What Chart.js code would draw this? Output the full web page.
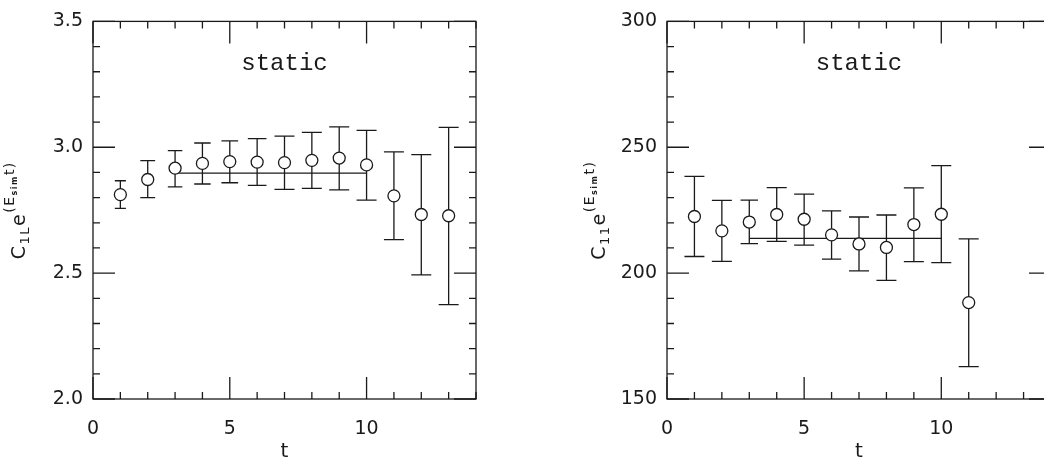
<!DOCTYPE html>
<html>
<head>
<meta charset="utf-8">
<script src="https://cdn.jsdelivr.net/npm/chart.js@4.4.1/dist/chart.umd.min.js"></script>
<style>
  html, body { margin: 0; padding: 0; background: #fff; overflow: hidden; width: 1044px; height: 461px; }
  #painel-esq { position: absolute; left: 0; top: 0; width: 522px; height: 461px; }
  #painel-dir { position: absolute; left: 522px; top: 0; width: 560px; height: 461px; }
</style>
</head>
<body>
<div id="painel-esq"><canvas id="chart-left" width="522" height="461"></canvas></div>
<div id="painel-dir"><canvas id="chart-right" width="560" height="461"></canvas></div>
<script>
// --- Data: left panel (C_1L) ---
const tLeft = [1, 2, 3, 4, 5, 6, 7, 8, 9, 10, 11, 12, 13];
const valLeft = [2.812, 2.872, 2.917, 2.936, 2.943, 2.941, 2.939, 2.948, 2.957, 2.930, 2.807, 2.733, 2.728];
const hiLeft = [2.867, 2.947, 2.987, 3.017, 3.025, 3.034, 3.044, 3.059, 3.081, 3.067, 2.982, 2.971, 3.079];
const loLeft = [2.757, 2.800, 2.843, 2.854, 2.859, 2.849, 2.833, 2.837, 2.831, 2.790, 2.633, 2.493, 2.375];
const fitLeft = 2.897;
const fitRangeLeft = [3, 10];
const yTicksLeft = [2.0, 2.5, 3.0, 3.5];
const yLabelsLeft = ['2.0', '2.5', '3.0', '3.5'];

// --- Data: right panel (C_11) ---
const tRight = [1, 2, 3, 4, 5, 6, 7, 8, 9, 10, 11];
const valRight = [222.5, 216.8, 220.3, 223.3, 221.4, 215.2, 211.6, 210.2, 219.3, 223.4, 188.3];
const hiRight = [238.4, 228.9, 229.0, 234.0, 231.4, 224.7, 222.3, 223.1, 233.9, 242.7, 213.6];
const loRight = [206.6, 204.7, 211.7, 212.6, 211.1, 205.6, 200.9, 197.1, 204.6, 204.2, 162.9];
const fitRight = 213.8;
const fitRangeRight = [3, 10];
const yTicksRight = [150, 200, 250, 300];
const yLabelsRight = ['150', '200', '250', '300'];

// shared x axis
const xTicks = [0, 5, 10];
const xLabels = ['0', '5', '10'];
const panelText = 'static';

const INK = '#1a1a1a';
const FONT = 'DejaVu Sans';

// --- Plugins ---
// error bars with caps, drawn under the circles
const errorBars = {
    id: 'errorBars',
    beforeDatasetsDraw(chart) {
        const { ctx, scales: { x, y } } = chart;
        chart.data.datasets.forEach(ds => {
            if (!ds.yMin) return;
            ctx.save();
            ctx.strokeStyle = INK;
            ctx.lineWidth = 1.3;
            ds.data.forEach((p, i) => {
                const px = x.getPixelForValue(p.x);
                const top = y.getPixelForValue(ds.yMax[i]);
                const bot = y.getPixelForValue(ds.yMin[i]);
                const half = Math.min(10, 0.2 * (bot - top));
                ctx.beginPath();
                ctx.moveTo(px, top); ctx.lineTo(px, bot);
                ctx.moveTo(px - half, top); ctx.lineTo(px + half, top);
                ctx.moveTo(px - half, bot); ctx.lineTo(px + half, bot);
                ctx.stroke();
            });
            ctx.restore();
        });
    }
};

// box around the plot with inward ticks on all four sides
const frame = {
    id: 'frame',
    afterDraw(chart, args, opts) {
        const { ctx, chartArea: a, scales: { x, y } } = chart;
        ctx.save();
        ctx.strokeStyle = INK;
        ctx.lineWidth = 1.3;
        ctx.strokeRect(a.left, a.top, a.right - a.left, a.bottom - a.top);
        ctx.beginPath();
        const isMajor = (v, step) => Math.abs(v / step - Math.round(v / step)) < 1e-6;
        const nx = Math.round((x.max - x.min) / opts.xMinor);
        for (let i = 0; i <= nx; i++) {
            const v = x.min + i * opts.xMinor;
            const px = x.getPixelForValue(v);
            const len = isMajor(v, opts.xMajor) ? 22 : 7;
            ctx.moveTo(px, a.bottom); ctx.lineTo(px, a.bottom - len);
            ctx.moveTo(px, a.top); ctx.lineTo(px, a.top + len);
        }
        const ny = Math.round((y.max - y.min) / opts.yMinor);
        for (let i = 0; i <= ny; i++) {
            const v = y.min + i * opts.yMinor;
            const py = y.getPixelForValue(v);
            const len = isMajor(v - y.min, opts.yMajor) ? 22 : 7;
            ctx.moveTo(a.left, py); ctx.lineTo(a.left + len, py);
            ctx.moveTo(a.right, py); ctx.lineTo(a.right - len, py);
        }
        ctx.stroke();

        // panel label
        ctx.fillStyle = INK;
        ctx.font = '24px "Liberation Mono"';
        ctx.textAlign = 'center';
        ctx.textBaseline = 'alphabetic';
        ctx.fillText(opts.label, (a.left + a.right) / 2, a.top + 49);
        ctx.restore();
    }
};

// rotated y title with sub/superscripts: C_sub e^(E_sim t)
const yTitle = {
    id: 'yTitle',
    afterDraw(chart, args, opts) {
        const { ctx, chartArea: a } = chart;
        const pieces = [
            { t: 'C', size: 19, dy: 0 },
            { t: opts.sub, size: 13, dy: 4 },
            { t: 'e', size: 19, dy: 0 },
            { t: '(E', size: 14, dy: -11 },
            { t: 'sim', size: 8, dy: -8, bold: true },
            { t: 't)', size: 14, dy: -11 }
        ];
        ctx.save();
        ctx.fillStyle = INK;
        ctx.textBaseline = 'alphabetic';
        ctx.textAlign = 'left';
        ctx.letterSpacing = '1.5px';
        let total = 0;
        pieces.forEach(p => {
            ctx.font = (p.bold ? 'bold ' : '') + p.size + 'px "' + FONT + '"';
            p.w = ctx.measureText(p.t).width;
            total += p.w;
        });
        ctx.translate(a.left - opts.offset, (a.top + a.bottom) / 2);
        ctx.rotate(-Math.PI / 2);
        let cx = -total / 2;
        pieces.forEach(p => {
            ctx.font = (p.bold ? 'bold ' : '') + p.size + 'px "' + FONT + '"';
            ctx.fillText(p.t, cx, p.dy);
            cx += p.w;
        });
        ctx.restore();
    }
};

// --- Chart builder ---
function makePanel(canvasId, t, val, lo, hi, fit, fitRange, yMin, yMax, yTicks, yLabels, o) {
    const ctx = document.getElementById(canvasId).getContext('2d');
    return new Chart(ctx, {
        type: 'scatter',
        data: {
            datasets: [
                {
                    data: t.map((v, i) => ({ x: v, y: val[i] })),
                    yMin: lo,
                    yMax: hi,
                    pointStyle: 'circle',
                    pointRadius: 6,
                    pointBackgroundColor: '#fff',
                    pointBorderColor: INK,
                    pointBorderWidth: 1.3,
                    showLine: false,
                    order: 0
                },
                {
                    type: 'line',
                    data: fitRange.map(v => ({ x: v, y: fit })),
                    borderColor: INK,
                    borderWidth: 1.3,
                    pointRadius: 0,
                    fill: false,
                    order: 1
                }
            ]
        },
        options: {
            responsive: false,
            animation: false,
            layout: { padding: { top: 15, right: o.padRight, left: 0, bottom: 0 } },
            scales: {
                x: {
                    type: 'linear',
                    min: 0,
                    max: 14,
                    afterBuildTicks: s => { s.ticks = xTicks.map(v => ({ value: v })); },
                    afterFit: s => { s.height = 62; },
                    ticks: {
                        callback: (v, i) => xLabels[i],
                        font: { family: FONT, size: 19 },
                        color: INK,
                        padding: 19,
                        maxRotation: 0,
                        autoSkip: false
                    },
                    grid: { display: false, drawTicks: false },
                    border: { display: false },
                    title: {
                        display: true,
                        text: 't',
                        font: { family: FONT, size: 20 },
                        color: INK,
                        padding: { top: 0, bottom: -3 }
                    }
                },
                y: {
                    type: 'linear',
                    min: yMin,
                    max: yMax,
                    afterBuildTicks: s => { s.ticks = yTicks.map(v => ({ value: v })); },
                    afterFit: s => { s.width = o.axisWidth; },
                    ticks: {
                        callback: (v, i) => yLabels[i],
                        font: { family: FONT, size: 19 },
                        color: INK,
                        padding: 10,
                        autoSkip: false
                    },
                    grid: { display: false, drawTicks: false },
                    border: { display: false }
                }
            },
            plugins: {
                legend: { display: false },
                tooltip: { enabled: false },
                frame: { xMajor: 5, xMinor: 1, yMajor: o.yMajor, yMinor: o.yMinor, label: panelText },
                yTitle: { sub: o.sub, offset: o.titleOffset }
            }
        },
        plugins: [errorBars, frame, yTitle]
    });
}

// --- Left panel ---
const chartLeft = makePanel('chart-left', tLeft, valLeft, loLeft, hiLeft, fitLeft, fitRangeLeft,
    2.0, 3.5, yTicksLeft, yLabelsLeft,
    { axisWidth: 93, padRight: 46, yMajor: 0.5, yMinor: 0.1, sub: '1L', titleOffset: 68 });

// --- Right panel (runs past the window edge) ---
const chartRight = makePanel('chart-right', tRight, valRight, loRight, hiRight, fitRight, fitRangeRight,
    150, 300, yTicksRight, yLabelsRight,
    { axisWidth: 145, padRight: 31, yMajor: 50, yMinor: 10, sub: '11', titleOffset: 62 });
</script>
</body>
</html>
